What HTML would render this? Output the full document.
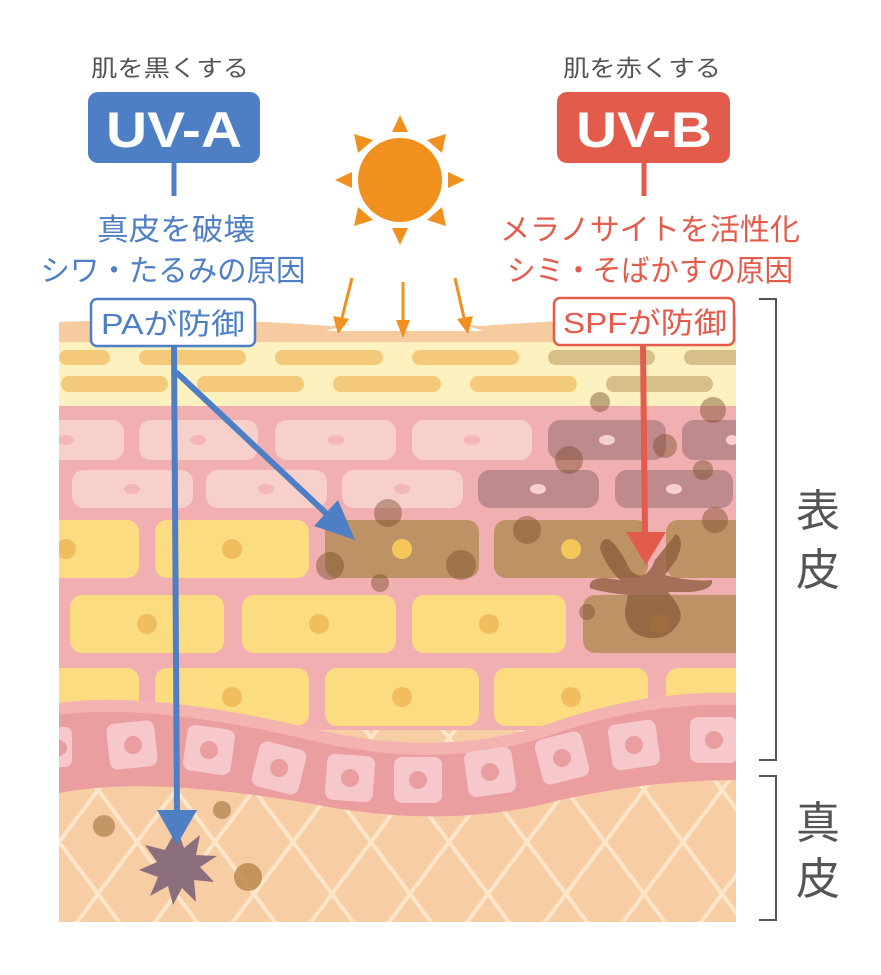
<!DOCTYPE html>
<html><head><meta charset="utf-8"><style>
html,body{margin:0;padding:0;background:#fff;}
svg{display:block;}
text{font-family:"Liberation Sans","Noto Sans CJK JP",sans-serif;}
</style></head><body>
<svg width="881" height="975" viewBox="0 0 881 975" xmlns="http://www.w3.org/2000/svg">
<defs>
<pattern id="lat" x="20" y="790" width="78" height="104" patternUnits="userSpaceOnUse">
<rect width="78" height="104" fill="#f7cda4"/>
<path d="M0 0L78 104M78 0L0 104" stroke="#fde6c9" stroke-width="4"/>
</pattern>
<clipPath id="skin"><rect x="59" y="300" width="677" height="622"/></clipPath>
</defs>
<g clip-path="url(#skin)">
<rect x="59" y="700" width="677" height="222" fill="url(#lat)"/>
<rect x="59" y="400" width="677" height="330" fill="#f2afb1"/>
<rect x="59" y="338" width="677" height="68" fill="#fdf1c0"/>
<path d="M59 322 Q200 316 330 326 Q400 318 480 326 Q620 316 736 316 L736 342 L59 342Z" fill="#f7cba0"/>
<path d="M326 331 Q405 305 484 331 Z" fill="#fff"/>
<g fill="#f4c97a">
<rect x="59" y="350" width="51" height="15" rx="7.5"/>
<rect x="139" y="350" width="107" height="15" rx="7.5"/>
<rect x="275" y="350" width="108" height="15" rx="7.5"/>
<rect x="412" y="350" width="107" height="15" rx="7.5"/>
<rect x="548" y="350" width="107" height="15" rx="7.5" fill="#d6bf88"/>
<rect x="684" y="350" width="60" height="15" rx="7.5" fill="#d6bf88"/>
<rect x="61" y="376" width="107" height="16" rx="8"/>
<rect x="197" y="376" width="107" height="16" rx="8"/>
<rect x="333" y="376" width="108" height="16" rx="8"/>
<rect x="470" y="376" width="107" height="16" rx="8"/>
<rect x="606" y="376" width="107" height="16" rx="8" fill="#d6bf88"/>
</g>
<g fill="#f7d0cc">
<rect x="40" y="420" width="84" height="40" rx="12"/>
<rect x="139" y="420" width="119" height="40" rx="12"/>
<rect x="275" y="420" width="121" height="40" rx="12"/>
<rect x="412" y="420" width="120" height="40" rx="12"/>
<rect x="548" y="420" width="118" height="40" rx="12" fill="#bf8a8e"/>
<rect x="682" y="420" width="70" height="40" rx="12" fill="#bf8a8e"/>
<rect x="72" y="470" width="121" height="38" rx="12"/>
<rect x="206" y="470" width="121" height="38" rx="12"/>
<rect x="342" y="470" width="121" height="38" rx="12"/>
<rect x="478" y="470" width="121" height="38" rx="12" fill="#bf8a8e"/>
<rect x="615" y="470" width="118" height="38" rx="12" fill="#bf8a8e"/>
</g>
<g fill="#f3b6b4">
<ellipse cx="66" cy="440" rx="8" ry="5"/><ellipse cx="198" cy="440" rx="8" ry="5"/><ellipse cx="336" cy="440" rx="8" ry="5"/><ellipse cx="472" cy="440" rx="8" ry="5"/>
<ellipse cx="607" cy="440" rx="8" ry="5" fill="#f7d0cc"/><ellipse cx="732" cy="440" rx="6" ry="5" fill="#f7d0cc"/>
<ellipse cx="132" cy="489" rx="8" ry="5"/><ellipse cx="266" cy="489" rx="8" ry="5"/><ellipse cx="402" cy="489" rx="8" ry="5"/>
<ellipse cx="538" cy="489" rx="8" ry="5" fill="#f7d0cc"/><ellipse cx="674" cy="489" rx="8" ry="5" fill="#f7d0cc"/>
</g>
<g fill="#fbdc80">
<rect x="40" y="520" width="99" height="58" rx="12"/>
<rect x="155" y="520" width="154" height="58" rx="12"/>
<rect x="325" y="520" width="154" height="58" rx="12" fill="#bd9366"/>
<rect x="494" y="520" width="154" height="58" rx="12" fill="#bd9366"/>
<rect x="666" y="520" width="90" height="58" rx="12" fill="#bd9366"/>
<rect x="70" y="595" width="154" height="58" rx="12"/>
<rect x="242" y="595" width="154" height="58" rx="12"/>
<rect x="412" y="595" width="154" height="58" rx="12"/>
<rect x="583" y="595" width="170" height="58" rx="12" fill="#bd9366"/>
<rect x="40" y="668" width="99" height="58" rx="12"/>
<rect x="155" y="668" width="154" height="58" rx="12"/>
<rect x="325" y="668" width="154" height="58" rx="12"/>
<rect x="494" y="668" width="154" height="58" rx="12"/>
<rect x="666" y="668" width="90" height="58" rx="12"/>
</g>
<g fill="#f2bd5e">
<circle cx="66" cy="549" r="10"/><circle cx="232" cy="549" r="10"/><circle cx="402" cy="549" r="10" fill="#f5c65a"/><circle cx="571" cy="549" r="10" fill="#f5c65a"/>
<circle cx="147" cy="624" r="10"/><circle cx="319" cy="624" r="10"/><circle cx="489" cy="624" r="10"/><circle cx="659" cy="624" r="10" fill="#d9a84c"/>
<circle cx="232" cy="697" r="10"/><circle cx="402" cy="697" r="10"/><circle cx="571" cy="697" r="10"/>
</g>
<g fill="#7a4e2a" opacity="0.45">
<circle cx="388" cy="513" r="14"/><circle cx="330" cy="566" r="14"/><circle cx="461" cy="565" r="15"/><circle cx="380" cy="583" r="9"/>
<circle cx="600" cy="402" r="10"/><circle cx="713" cy="410" r="13"/><circle cx="569" cy="460" r="14"/><circle cx="665" cy="446" r="12"/><circle cx="703" cy="470" r="10"/>
<circle cx="527" cy="530" r="14"/><circle cx="715" cy="520" r="13"/><circle cx="587" cy="612" r="8"/>
</g>
<path d="M610 540 Q620 548 630 570 Q645 585 655 560 L676 534 Q686 540 676 560 L665 575 Q690 582 712 580 Q714 590 690 592 L668 592 Q684 610 680 620 Q670 640 650 638 Q625 635 625 610 L628 595 Q600 592 590 588 Q588 578 605 578 L620 580 Q605 565 600 548 Q602 536 610 540Z" fill="#8a5a3a" opacity="0.75"/>
<path d="M59 703 Q150 690 318 730 Q450 760 560 720 Q650 690 736 693 L736 780 Q650 780 560 800 Q450 830 318 805 Q150 775 59 793Z" fill="#f4b2b0"/>
<path d="M59 715 Q150 702 318 742 Q450 772 560 732 Q650 702 736 705 L736 780 Q650 780 560 800 Q450 830 318 805 Q150 775 59 793Z" fill="#eb9e9f"/>
<g fill="#f6c8cb">
<rect x="45" y="727" width="27" height="40" rx="7"/>
<rect x="108" y="722" width="48" height="46" rx="8" transform="rotate(-6 132 745)"/>
<rect x="185" y="727" width="48" height="46" rx="8" transform="rotate(8 209 750)"/>
<rect x="255" y="745" width="48" height="46" rx="8" transform="rotate(14 279 768)"/>
<rect x="326" y="755" width="48" height="46" rx="8" transform="rotate(4 350 778)"/>
<rect x="394" y="757" width="48" height="46" rx="8"/>
<rect x="466" y="749" width="48" height="46" rx="8" transform="rotate(-8 490 772)"/>
<rect x="538" y="735" width="48" height="46" rx="8" transform="rotate(-14 562 758)"/>
<rect x="610" y="722" width="48" height="46" rx="8" transform="rotate(-8 634 745)"/>
<rect x="690" y="717" width="48" height="46" rx="8"/>
</g>
<g fill="#eb9e9f">
<circle cx="59" cy="748" r="8"/><circle cx="133" cy="745" r="9"/><circle cx="209" cy="750" r="9"/><circle cx="279" cy="768" r="9"/><circle cx="350" cy="778" r="9"/><circle cx="418" cy="780" r="9"/><circle cx="490" cy="772" r="9"/><circle cx="562" cy="758" r="9"/><circle cx="634" cy="745" r="9"/><circle cx="714" cy="740" r="9"/>
</g>
<circle cx="104" cy="826" r="11" fill="#b48a55" opacity="0.8"/>
<circle cx="222" cy="810" r="9" fill="#b48a55" opacity="0.8"/>
<circle cx="248" cy="877" r="14" fill="#b88a50" opacity="0.85"/>
<path d="M177 828 L184 848 L200 835 L196 855 L217 856 L200 867 L214 882 L194 880 L196 902 L182 888 L173 905 L168 886 L150 896 L158 877 L139 870 L157 862 L145 845 L165 850Z" fill="#8b6f7c"/>
</g>
<g fill="#f0901e">
<circle cx="400" cy="180" r="42"/>
<path d="M400 115 L392 132 L408 132Z"/><path d="M400 245 L392 228 L408 228Z"/>
<path d="M335 180 L352 172 L352 188Z"/><path d="M465 180 L448 172 L448 188Z"/>
<path d="M354 134 L358 153 L373 140Z"/><path d="M446 134 L442 153 L427 140Z"/>
<path d="M354 226 L358 207 L373 220Z"/><path d="M446 226 L442 207 L427 220Z"/>
</g>
<g stroke="#f0901e" stroke-width="3" fill="#f0901e">
<line x1="352" y1="278" x2="342" y2="318"/><path d="M333 316 L338 334 L349 319Z" stroke="none"/>
<line x1="403" y1="282" x2="403" y2="320"/><path d="M396 320 L403 338 L410 320Z" stroke="none"/>
<line x1="455" y1="278" x2="464" y2="318"/><path d="M457 319 L468 334 L473 316Z" stroke="none"/>
</g>
<text x="170" y="76" font-size="23" fill="#555" text-anchor="middle" textLength="158" lengthAdjust="spacingAndGlyphs">肌を黒くする</text>
<rect x="88" y="92" width="172" height="71" rx="10" fill="#4e7fc5"/>
<text x="174" y="147" font-size="50" font-weight="bold" fill="#fff" text-anchor="middle" textLength="136" lengthAdjust="spacingAndGlyphs">UV-A</text>
<line x1="174" y1="163" x2="174" y2="196" stroke="#4e7fc5" stroke-width="5"/>
<text x="176" y="240" font-size="30" fill="#4e7fc5" text-anchor="middle" textLength="158" lengthAdjust="spacingAndGlyphs">真皮を破壊</text>
<text x="173" y="281" font-size="30" fill="#4e7fc5" text-anchor="middle" textLength="265" lengthAdjust="spacingAndGlyphs">シワ・たるみの原因</text>
<text x="642" y="76" font-size="23" fill="#555" text-anchor="middle" textLength="158" lengthAdjust="spacingAndGlyphs">肌を赤くする</text>
<rect x="557" y="92" width="173" height="71" rx="10" fill="#e35b4b"/>
<text x="644" y="147" font-size="50" font-weight="bold" fill="#fff" text-anchor="middle" textLength="136" lengthAdjust="spacingAndGlyphs">UV-B</text>
<line x1="644" y1="163" x2="644" y2="196" stroke="#e35b4b" stroke-width="5"/>
<text x="650" y="240" font-size="30" fill="#e35b4b" text-anchor="middle" textLength="300" lengthAdjust="spacingAndGlyphs">メラノサイトを活性化</text>
<text x="650" y="281" font-size="30" fill="#e35b4b" text-anchor="middle" textLength="286" lengthAdjust="spacingAndGlyphs">シミ・そばかすの原因</text>
<g stroke="#4e7fc5" stroke-width="6" fill="#4e7fc5">
<line x1="174" y1="345" x2="177" y2="815"/>
<path d="M157 810 L197 810 L177 845Z" stroke="none"/>
<line x1="176" y1="372" x2="330" y2="517"/>
<path d="M355 540 L314 526 L338 500Z" stroke="none"/>
</g>
<g stroke="#e35b4b" stroke-width="6" fill="#e35b4b">
<line x1="643" y1="345" x2="645" y2="535"/>
<path d="M626 532 L666 532 L646 565Z" stroke="none"/>
</g>
<rect x="91" y="299" width="164" height="47" rx="6" fill="#fff" stroke="#4e7fc5" stroke-width="2.5"/>
<text x="173" y="334" font-size="29" fill="#4e7fc5" text-anchor="middle" textLength="144" lengthAdjust="spacingAndGlyphs">PAが防御</text>
<rect x="554" y="298" width="180" height="47" rx="6" fill="#fff" stroke="#e35b4b" stroke-width="2.5"/>
<text x="645" y="333" font-size="29" fill="#e35b4b" text-anchor="middle" textLength="164" lengthAdjust="spacingAndGlyphs">SPFが防御</text>
<path d="M759 299 H776 V760 H759" fill="none" stroke="#555" stroke-width="2"/>
<path d="M759 776 H776 V920 H759" fill="none" stroke="#555" stroke-width="2"/>
<text x="818" y="526" font-size="44" fill="#555" text-anchor="middle">表</text>
<text x="818" y="585" font-size="44" fill="#555" text-anchor="middle">皮</text>
<text x="818" y="838" font-size="44" fill="#555" text-anchor="middle">真</text>
<text x="818" y="894" font-size="44" fill="#555" text-anchor="middle">皮</text>
</svg>
</body></html>
